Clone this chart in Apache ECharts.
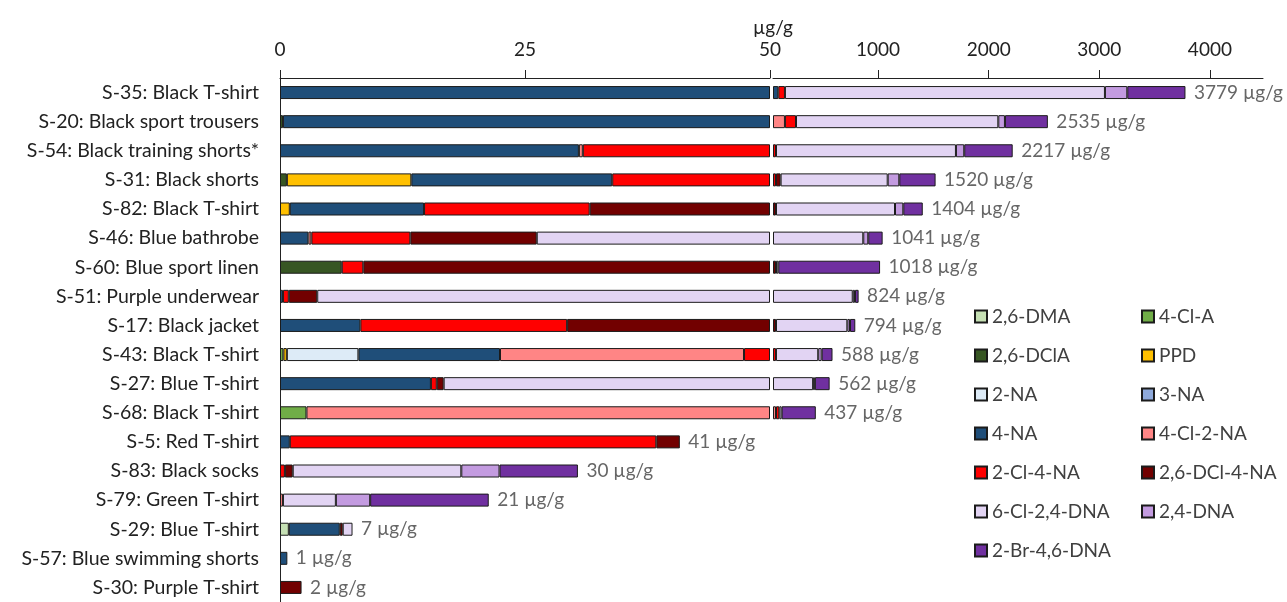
<!DOCTYPE html>
<html><head><meta charset="utf-8">
<script src="https://cdn.jsdelivr.net/npm/echarts@6/dist/echarts.min.js"></script>
<style>html,body{margin:0;padding:0;background:#fff}#c{width:1287px;height:602px}</style>
</head><body><div id="c"></div>
<script>
// ---------- DATA ----------
const samples = [
  'S-35: Black T-shirt','S-20: Black sport trousers','S-54: Black training shorts*','S-31: Black shorts',
  'S-82: Black T-shirt','S-46: Blue bathrobe','S-60: Blue sport linen','S-51: Purple underwear',
  'S-17: Black jacket','S-43: Black T-shirt','S-27: Blue T-shirt','S-68: Black T-shirt',
  'S-5: Red T-shirt','S-83: Black socks','S-79: Green T-shirt','S-29: Blue T-shirt',
  'S-57: Blue swimming shorts','S-30: Purple T-shirt'
];
const compounds = ['2,6-DMA','4-Cl-A','2,6-DClA','PPD','2-NA','3-NA','4-NA','4-Cl-2-NA','2-Cl-4-NA','2,6-DCl-4-NA','6-Cl-2,4-DNA','2,4-DNA','2-Br-4,6-DNA'];
const compoundColors = ['#C6E0B4','#70AD47','#375623','#FFC000','#DDEBF7','#8EA9DB','#1F4E79','#FF8585','#FF0000','#720000','#E2D4F3','#C39BE0','#7030A0'];
// values in µg/g, one entry per sample (order of `samples`)
const dma26   = [0,0,0,0,0,0,0,0,0,0,0,0,0,0,0,0.9,0,0];
const clA4    = [0,0,0,0,0,0,0,0,0,0.35,0,2.7,0,0,0,0,0,0];
const dclA26  = [0,0.3,0,0.7,0,0,6.3,0,0,0,0,0,0,0,0,0,0,0];
const ppd     = [0,0,0,12.7,1.0,0,0,0,0,0.35,0,0,0,0,0,0,0,0];
const na2     = [0,0,0,0,0,0,0,0,0,7.3,0,0,0,0,0,0,0,0];
const na3     = [0,0,0,0,0,0,0,0,0,0,0,0,0,0,0,0,0,0];
const na4     = [98,49.7,30.5,20.5,13.7,2.9,0,0.3,8.2,14.45,15.4,0,1.0,0,0,5.2,0.75,0];
const cl4na2  = [0,108,0.4,0,0,0.3,0,0,0,24.9,0,74.3,0,0,0.3,0,0,0];
const cl2na4  = [60,100,46.1,43,16.9,10.1,2.2,0.6,21.1,29.6,0.6,30,37.4,0.5,0,0,0,0];
const dcl26na4= [0,0,0,42,45.4,12.9,68.5,2.9,47.7,0,0.7,0,2.4,0.8,0,0.3,0,2.2];
const cl6dna24= [2893,1829,1627,968,1076,840,21,767.2,645,382,396,21,0,17.2,5.4,1.0,0,0];
const dna24   = [202,60,75,105,75,45,0,20,24,31,16,0,0,3.9,3.5,0,0,0];
const br2dna46= [526,388,438,328,176,130,920,33,48,98,133.3,309,0,8.0,12.1,0,0,0];
const totalLabels = [3779,2535,2217,1520,1404,1041,1018,824,794,588,562,437,41,30,21,7,1,2];
const leftTicks = [0,25,50];
const rightTicks = [1000,2000,3000,4000];
const legendCol1 = ['2,6-DMA','2,6-DClA','2-NA','4-NA','2-Cl-4-NA','6-Cl-2,4-DNA','2-Br-4,6-DNA'];
const legendCol2 = ['4-Cl-A','PPD','3-NA','4-Cl-2-NA','2,6-DCl-4-NA','2,4-DNA'];

// ---------- BUILD ----------
const values = [dma26,clA4,dclA26,ppd,na2,na3,na4,cl4na2,cl2na4,dcl26na4,cl6dna24,dna24,br2dna46];
const BREAK = 50;
const FONT = 'Lato, "Open Sans", sans-serif';
const leftData = values.map(() => []);
const rightData = values.map(() => []);
const sums = [];
samples.forEach((s, k) => {
  let cum = 0;
  values.forEach((arr, i) => {
    const prev = cum; cum += arr[k];
    const l = Math.min(cum, BREAK) - Math.min(prev, BREAK);
    const r = Math.max(cum, BREAK) - Math.max(prev, BREAK);
    leftData[i].push(l > 1e-9 ? l : '-');
    rightData[i].push(r > 1e-9 ? r : '-');
  });
  sums.push(cum);
});
const baseData = sums.map(s => s > BREAK ? BREAK : '-');
const border = {borderColor: '#1b1b1b', borderWidth: 1};
const BW = 13;
const series = [];
compounds.forEach((name, i) => {
  series.push({type: 'bar', name, stack: 'L', xAxisIndex: 0, yAxisIndex: 0, barWidth: BW,
    data: leftData[i], itemStyle: Object.assign({color: compoundColors[i]}, border)});
});
series.push({type: 'bar', name: '_base', stack: 'R', xAxisIndex: 1, yAxisIndex: 1, barWidth: BW,
  data: baseData, silent: true, itemStyle: {color: 'rgba(0,0,0,0)', borderWidth: 0}});
compounds.forEach((name, i) => {
  series.push({type: 'bar', name, stack: 'R', xAxisIndex: 1, yAxisIndex: 1, barWidth: BW,
    data: rightData[i], itemStyle: Object.assign({color: compoundColors[i]}, border)});
});
const labelCfg = {show: true, position: 'right', distance: 8, fontSize: 19, color: '#404040', fontFamily: FONT,
  formatter: p => p.value[2] + ' µg/g'};
series.push({type: 'scatter', xAxisIndex: 0, yAxisIndex: 0, symbolSize: 1, itemStyle: {color: 'rgba(0,0,0,0)'},
  silent: true, label: labelCfg,
  data: samples.map((s, k) => sums[k] <= BREAK ? [sums[k], s, totalLabels[k]] : null).filter(Boolean)});
series.push({type: 'scatter', xAxisIndex: 1, yAxisIndex: 1, symbolSize: 1, itemStyle: {color: 'rgba(0,0,0,0)'},
  silent: true, label: labelCfg,
  data: samples.map((s, k) => sums[k] > BREAK ? [sums[k], s, totalLabels[k]] : null).filter(Boolean)});

const axisCommon = {
  type: 'value', position: 'top', splitLine: {show: false},
  axisLine: {show: true, lineStyle: {color: '#222', width: 1}},
  axisTick: {show: true, length: 8, lineStyle: {color: '#222'}},
  axisLabel: {fontSize: 19, color: '#222', margin: 19, fontFamily: FONT, formatter: v => String(v)}
};
const legendCommon = {orient: 'vertical', icon: 'rect', itemWidth: 12, itemHeight: 12, itemGap: 20,
  textStyle: {fontSize: 19, color: '#404040', fontFamily: FONT}, selectedMode: false};

const chart = echarts.init(document.getElementById('c'), null, {renderer: 'canvas'});
chart.setOption({
  animation: false,
  backgroundColor: '#fff',
  textStyle: {fontFamily: FONT},
  title: {text: 'µg/g', left: 748, top: 13, textStyle: {fontSize: 19, fontWeight: 'normal', color: '#222', fontFamily: FONT}},
  grid: [
    {left: 280, width: 490, top: 78, height: 528},
    {left: 773, width: 490, top: 78, height: 528}
  ],
  xAxis: [
    Object.assign({}, axisCommon, {gridIndex: 0, min: leftTicks[0], max: leftTicks[leftTicks.length - 1], interval: 25}),
    Object.assign({}, axisCommon, {gridIndex: 1, min: BREAK, max: 4480,
      axisTick: Object.assign({}, axisCommon.axisTick, {customValues: rightTicks}),
      axisLabel: Object.assign({}, axisCommon.axisLabel, {customValues: rightTicks})})
  ],
  yAxis: [
    {type: 'category', gridIndex: 0, data: samples, inverse: true,
      axisLine: {show: true, lineStyle: {color: '#222'}}, axisTick: {show: false},
      axisLabel: {fontSize: 19.5, color: '#222', margin: 21, fontFamily: FONT}},
    {type: 'category', gridIndex: 1, data: samples, inverse: true, show: false}
  ],
  legend: [
    Object.assign({left: 969, top: 302, data: legendCol1}, legendCommon),
    Object.assign({left: 1136, top: 302, data: legendCol2}, legendCommon)
  ],
  series
});
</script>
</body></html>
